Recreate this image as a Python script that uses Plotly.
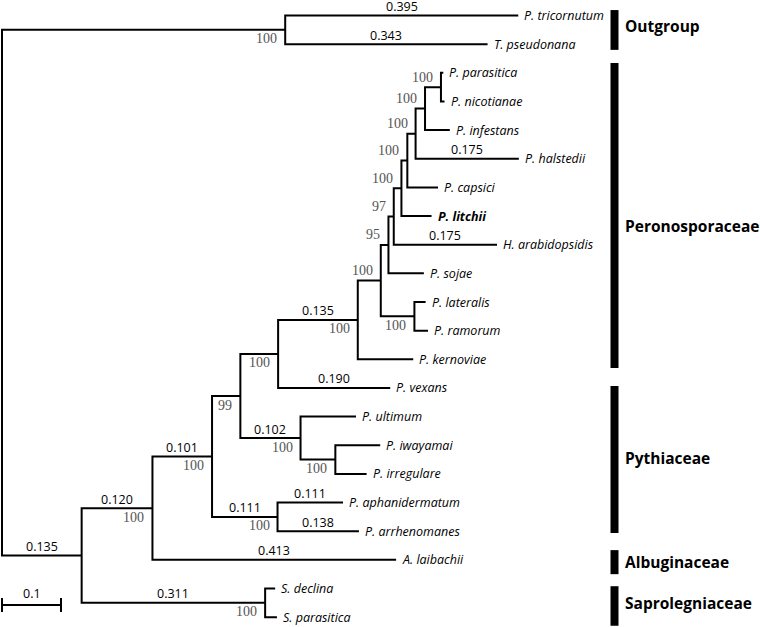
import plotly.graph_objects as go

# ---------------- data ----------------
taxa = ["P. tricornutum", "T. pseudonana", "P. parasitica", "P. nicotianae", "P. infestans",
        "P. halstedii", "P. capsici", "P. litchii", "H. arabidopsidis", "P. sojae",
        "P. lateralis", "P. ramorum", "P. kernoviae", "P. vexans", "P. ultimum",
        "P. iwayamai", "P. irregulare", "P. aphanidermatum", "P. arrhenomanes",
        "A. laibachii", "S. declina", "S. parasitica"]
taxon_parent = ["OG", "OG", "P", "P", "Q", "R", "S", "T", "U", "J", "K", "K", "H", "E",
                "F", "G", "G", "D", "D", "A", "SA", "SA"]
taxon_length = [0.395, 0.343, 0.004, 0.006, 0.042, 0.175, 0.052, 0.051, 0.175, 0.060,
                0.019, 0.023, 0.094, 0.190, 0.094, 0.076, 0.053, 0.111, 0.138, 0.413,
                0.017, 0.020]
bold_taxa = ["P. litchii"]

clade_id = ["root", "OG", "IN", "A", "B", "C", "E", "H", "I", "J", "U", "T", "S", "R",
            "Q", "P", "K", "F", "G", "D", "SA"]
clade_parent = [None, "root", "root", "IN", "A", "B", "C", "E", "H", "I", "J", "U", "T",
                "S", "R", "Q", "I", "C", "F", "B", "IN"]
clade_length = [0, 0.480, 0.135, 0.120, 0.101, 0.048, 0.064, 0.135, 0.039, 0.013, 0.009,
                0.013, 0.010, 0.014, 0.016, 0.027, 0.057, 0.102, 0.059, 0.111, 0.311]
clade_bootstrap = [None, 100, None, 100, 100, 99, 100, 100, 100, 95, 97, 100, 100, 100,
                   100, 100, 100, 100, 100, 100, 100]
bootstrap_above = ["P", "Q", "R", "S", "T", "U", "J", "I"]
unlabelled_branches = ["OG"]
length_label_min = 0.1

groups = ["Outgroup", "Peronosporaceae", "Pythiaceae", "Albuginaceae", "Saprolegniaceae"]
group_first = [0, 2, 13, 19, 20]
group_last = [1, 12, 18, 19, 21]

scale_value = 0.1

# ---------------- layout constants ----------------
W, H = 760, 627
PX_PER_UNIT = 590.0
ROOT_PX = 2.0
LEAF0_PX = 15.5
LEAF_STEP = 28.65
bar_pad_top = [0.19, 0.34, 0.07, 0.34, 0.08]
bar_pad_bottom = [0.20, 0.30, 0.06, 0.50, 0.30]
group_label_shift = [4, -11, 1, 0, 3]  # px, positive = up
bar_x0, bar_x1, label_x = 610.5, 618.5, 623
scale_y_idx = (605 - LEAF0_PX) / LEAF_STEP
tick_half = 7.0 / LEAF_STEP

# ---------------- tree geometry ----------------
cx = {}
for cid, par, ln in zip(clade_id, clade_parent, clade_length):
    cx[cid] = 0.0 if par is None else cx[par] + ln
children = {c: [] for c in clade_id}  # list of (kind, key)
for i, par in enumerate(taxon_parent):
    children[par].append(("t", i))
for cid, par in zip(clade_id, clade_parent):
    if par is not None:
        children[par].append(("c", cid))
tx = [cx[p] + l for p, l in zip(taxon_parent, taxon_length)]
ty = list(range(len(taxa)))
cy = {}
for cid in reversed(clade_id):
    ys = [ty[k] if kind == "t" else cy[k] for kind, k in children[cid]]
    cy[cid] = (min(ys) + max(ys)) / 2.0


def child_xy(kind, k):
    return (tx[k], ty[k]) if kind == "t" else (cx[k], cy[k])


xs, ys = [], []
for cid in clade_id:
    pts = sorted((child_xy(kind, k) for kind, k in children[cid]), key=lambda p: p[1])
    top, bot = pts[0], pts[-1]
    xs += [top[0], cx[cid], cx[cid], bot[0], None]
    ys += [top[1], top[1], bot[1], bot[1], None]
    for p in pts[1:-1]:
        xs += [cx[cid], p[0], None]
        ys += [p[1], p[1], None]

fig = go.Figure()
fig.add_trace(go.Scatter(x=xs, y=ys, mode="lines", line=dict(color="black", width=2),
                         hoverinfo="skip", showlegend=False))

# scale bar
fig.add_trace(go.Scatter(
    x=[0, scale_value, None, 0, 0, None, scale_value, scale_value],
    y=[scale_y_idx, scale_y_idx, None, scale_y_idx - tick_half, scale_y_idx + tick_half,
       None, scale_y_idx - tick_half, scale_y_idx + tick_half],
    mode="lines", line=dict(color="black", width=2), hoverinfo="skip", showlegend=False))

ann = []
# leaf labels
for name, x, y in zip(taxa, tx, ty):
    txt = f"<i>{name}</i>"
    if name in bold_taxa:
        txt = f"<b><i>{name}</i></b>"
    ann.append(dict(x=x, y=y, text=txt, xanchor="left", yanchor="middle", xshift=4,
                    showarrow=False, font=dict(family="Open Sans", size=12.5, color="black")))

# branch length labels
for name, par, ln, x, y in zip(taxa, taxon_parent, taxon_length, tx, ty):
    if ln >= length_label_min:
        ann.append(dict(x=(cx[par] + x) / 2, y=y, text=f"{ln:.3f}", yanchor="middle",
                        yshift=9, showarrow=False,
                        font=dict(family="Open Sans", size=12.5, color="black")))
for cid, par, ln in zip(clade_id, clade_parent, clade_length):
    if par is not None and ln >= length_label_min and cid not in unlabelled_branches:
        ann.append(dict(x=(cx[par] + cx[cid]) / 2, y=cy[cid], text=f"{ln:.3f}",
                        yanchor="middle", yshift=9, showarrow=False,
                        font=dict(family="Open Sans", size=12.5, color="black")))

# bootstrap labels
for cid, bs in zip(clade_id, clade_bootstrap):
    if bs is None:
        continue
    above = cid in bootstrap_above
    ann.append(dict(x=cx[cid], y=cy[cid], text=str(bs), xanchor="right", yanchor="middle",
                    xshift=-6, yshift=10 if above else -9, showarrow=False,
                    font=dict(family="Liberation Serif", size=14, color="#555555")))

# scale label
ann.append(dict(x=scale_value / 2, y=scale_y_idx, text=f"{scale_value:g}", yanchor="middle",
                yshift=12, showarrow=False,
                font=dict(family="Open Sans", size=12.5, color="black")))

# group bars and labels
shapes = []
for g, f, l, pt, pb, sh in zip(groups, group_first, group_last, bar_pad_top,
                                bar_pad_bottom, group_label_shift):
    y0, y1 = f - pt, l + pb
    shapes.append(dict(type="rect", xref="paper", yref="y", x0=bar_x0 / W, x1=bar_x1 / W,
                       y0=y0, y1=y1, fillcolor="black", line=dict(width=0)))
    ann.append(dict(xref="paper", x=label_x / W, y=(y0 + y1) / 2, yshift=sh, text=f"<b>{g}</b>",
                    xanchor="left", yanchor="middle", showarrow=False,
                    font=dict(family="Open Sans", size=15.5, color="black")))

fig.update_layout(
    width=W, height=H, margin=dict(l=0, r=0, t=0, b=0),
    paper_bgcolor="white", plot_bgcolor="white",
    xaxis=dict(range=[-ROOT_PX / PX_PER_UNIT, (W - ROOT_PX) / PX_PER_UNIT], visible=False,
               fixedrange=True),
    yaxis=dict(range=[(H - LEAF0_PX) / LEAF_STEP, -LEAF0_PX / LEAF_STEP], visible=False,
               fixedrange=True),
    annotations=ann, shapes=shapes, showlegend=False,
)
fig.write_html(
    "out.html",
    config={"displayModeBar": False},
    post_script="document.body.style.margin='0';document.body.style.overflow='hidden';",
)
